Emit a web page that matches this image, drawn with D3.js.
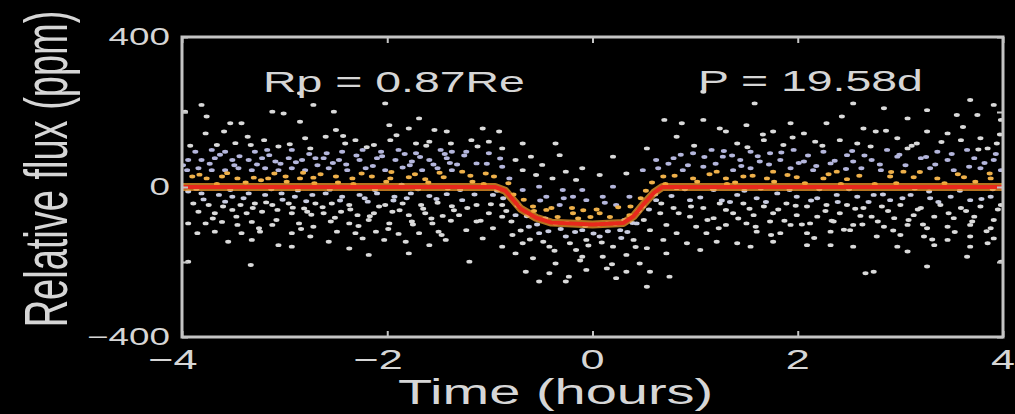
<!DOCTYPE html>
<html>
<head>
<meta charset="utf-8">
<script src="https://cdn.jsdelivr.net/npm/d3@7"></script>
<style>
  html, body { margin: 0; padding: 0; background: #000; }
  svg { display: block; }
</style>
</head>
<body>
<svg id="chart" width="1015" height="414"></svg>
<script>
// ---- data ----
const xTicks = [-4, -2, 0, 2, 4];
const xTickLabels = ["\u22124", "\u22122", "0", "2", "4"];
const yTicks = [-400, -200, 0, 200, 400];
const yTickLabels = ["\u2212400", "", "0", "", "400"];

// transit model (hours, ppm)
const modelTime = [-4, -0.95, -0.85, -0.7, -0.55, -0.4, 0, 0.3, 0.4, 0.5, 0.6, 0.68, 4];
const modelFlux = [0, 0, -10, -58, -82, -95, -100, -96, -78, -45, -15, 0, 0];

// observations, [time (h), flux (ppm)], left to right
const obsA = [[-3.97,201],[-3.81,219],[-3.76,188],[-3.12,201],[-3.01,196],[-2.85,250],[-2.72,219],[-2.85,174],[-3.53,170],[-3.42,170],[-3.59,148],[-3.77,143],[-3.20,125],[-2.80,130],[-3.48,117],[-3.66,112],[-3.33,112],[-3.06,108],[-3.87,94],[-3.71,99],[-3.58,94],[-3.29,94],[-3.17,99],[-2.93,99],[-2.75,103],
  [-3.94,72],[-3.81,72],[-3.68,77],[-3.51,72],[-3.35,72],[-3.22,77],[-3.09,68],[-2.96,77],[-2.83,72],[-2.70,77],
  [-3.95,45],[-3.84,50],[-3.71,45],[-3.58,45],[-3.45,50],[-3.32,45],[-3.19,50],[-3.06,45],[-2.93,50],[-2.80,45],
  [-3.90,28],[-3.76,23],[-3.61,28],[-3.46,23],[-3.30,25],[-3.16,23],[-2.99,28],[-2.85,23],[-2.72,25],
  [-3.94,-12],[-3.81,-17],[-3.64,-21],[-3.51,-26],[-3.35,-17],[-3.19,-21],[-3.03,-17],[-2.90,-26],[-2.73,-21],
  [-3.89,-44],[-3.74,-48],[-3.58,-39],[-3.43,-48],[-3.29,-44],[-3.12,-48],[-2.96,-44],[-2.81,-57],[-2.70,-44],
  [-3.84,-66],[-3.68,-70],[-3.51,-61],[-3.37,-70],[-3.22,-66],[-3.07,-61],[-2.93,-70],[-2.78,-66],
  [-3.94,-97],[-3.77,-97],[-3.61,-93],[-3.46,-101],[-3.32,-93],[-3.12,-101],[-2.86,-97],[-2.72,-106],
  [-3.85,-123],[-3.68,-119],[-3.42,-123],[-3.24,-119],[-2.93,-123],[-2.75,-132],
  [-3.55,-146],[-3.32,-141],[-3.06,-155],[-2.93,-159],[-3.94,-199],[-3.33,-208],
  [-3.99,58],[-3.92,110],[-3.86,-5],[-3.83,33],[-3.79,-33],[-3.73,62],[-3.70,-84],[-3.66,8],[-3.63,86],[-3.60,-52],[-3.56,37],[-3.53,-8],[-3.49,58],[-3.47,-79],[-3.44,82],[-3.40,-30],[-3.38,12],[-3.36,134],[-3.31,-56],[-3.27,60],[-3.25,-110],[-3.23,18],[-3.18,-41],[-3.15,85],[-3.13,-6],[-3.10,36],[-3.08,-88],[-3.04,62],[-3.02,-34],[-2.98,14],[-2.95,114],[-2.92,-55],[-2.89,66],[-2.87,-9],[-2.84,-112],[-2.82,38],[-2.79,-38],[-2.76,88],[-2.74,-74],[-2.71,10],[-2.68,58]];
const obsB = [[-2.02,223],[-2.52,201],[-1.69,183],[-1.98,165],[-1.79,156],[-1.54,152],[-1.42,148],[-2.50,152],[-2.60,134],[-2.31,125],[-2.41,116],[-1.97,125],[-2.13,112],[-1.72,116],[-1.59,121],[-1.38,116],
  [-2.44,94],[-2.24,99],[-2.06,94],[-1.89,99],[-1.72,90],[-1.48,99],[-1.37,94],
  [-2.62,77],[-2.47,72],[-2.27,72],[-2.10,77],[-1.92,72],[-1.76,68],[-1.59,72],[-1.42,77],
  [-2.57,50],[-2.39,45],[-2.21,50],[-2.02,45],[-1.85,52],[-1.66,45],[-1.51,50],[-1.37,45],
  [-2.50,28],[-2.34,23],[-2.15,28],[-1.97,23],[-1.79,26],[-1.63,21],[-1.45,26],
  [-2.60,-17],[-2.44,-26],[-2.27,-21],[-2.10,-17],[-1.93,-26],[-1.77,-17],[-1.59,-24],[-1.42,-19],
  [-2.54,-44],[-2.37,-48],[-2.19,-39],[-2.02,-48],[-1.85,-44],[-1.67,-48],[-1.51,-42],[-1.37,-51],
  [-2.62,-70],[-2.45,-66],[-2.29,-75],[-2.13,-70],[-1.95,-66],[-1.79,-75],[-1.63,-70],[-1.46,-77],
  [-2.55,-92],[-2.37,-97],[-2.18,-88],[-1.98,-97],[-1.76,-92],[-1.56,-97],[-1.38,-90],
  [-2.49,-119],[-2.31,-123],[-2.11,-119],[-1.89,-125],[-1.69,-123],[-1.50,-119],
  [-2.57,-146],[-2.24,-137],[-2.03,-141],[-1.82,-146],[-1.59,-155],[-1.43,-141],
  [-2.37,-164],[-2.18,-181],[-1.79,-177],
  [-2.65,34],[-2.63,-54],[-2.59,90],[-2.56,-7],[-2.53,64],[-2.51,-82],[-2.48,12],[-2.46,-36],[-2.43,136],[-2.40,60],[-2.36,-60],[-2.33,8],[-2.30,84],[-2.28,-104],[-2.25,36],[-2.22,-30],[-2.20,106],[-2.17,-78],[-2.14,56],[-2.12,-8],[-2.08,-52],[-2.05,82],[-2.01,14],[-1.99,-112],[-1.96,40],[-1.94,-36],[-1.91,138],[-1.88,-62],[-1.86,6],[-1.83,88],[-1.81,-30],[-1.78,58],[-1.75,-100],[-1.73,34],[-1.70,-6],[-1.68,80],[-1.65,-58],[-1.62,110],[-1.60,12],[-1.57,-84],[-1.55,60],[-1.52,-32],[-1.49,38],[-1.47,-128],[-1.44,88],[-1.41,-4],[-1.39,64],[-1.35,-62]];
const obsC = [[-1.07,156],[-0.91,148],[-1.18,125],[-1.01,121],[-0.68,116],[-0.36,116],[-0.88,103],[-1.23,94],[-0.60,81],[-0.32,85],[-1.01,90],[-0.75,72],[-1.13,63],[-0.10,50],[-0.88,54],[-0.49,59],[-0.26,41],[-1.27,41],[-0.68,45],[-0.39,23],[-0.16,19],[-1.04,36],[-0.55,32],[-0.81,23],[-1.17,14],
  [-0.10,-8],[-0.52,1],[-0.29,-8],[-0.68,-8],[-0.97,-21],[-1.27,-35],[-0.45,-26],[-0.19,-26],[-0.06,-35],[-1.13,-48],[-0.88,-48],[-0.58,-52],[-0.32,-48],
  [-1.30,-75],[-1.01,-70],[-0.75,-75],[-0.45,-61],[-0.19,-70],[-1.13,-92],[-0.88,-79],[-0.62,-106],[-0.36,-97],[-0.10,-115],
  [-1.23,-115],[-0.97,-110],[-0.78,-128],[-0.52,-123],[-0.26,-132],[-0.06,-141],[-1.07,-137],[-0.68,-150],[-0.42,-159],[-0.16,-168],[-0.88,-159],
  [-1.20,-199],[-0.58,-190],[-0.36,-204],[-0.75,-177],[-0.10,-186],[-0.65,-226],[-0.42,-230],[-0.23,-239],[-0.06,-221],[-0.52,-252],[-0.26,-252],
  [-1.32,60],[-1.29,-8],[-1.25,84],[-1.22,-56],[-1.19,30],[-1.15,-20],[-1.12,108],[-1.09,-90],[-1.06,8],[-1.03,62],[-0.99,-46],[-0.96,28],[-0.93,-10],[-0.90,76],[-0.87,-30],[-0.84,-64],[-0.82,10],[-0.79,-92],[-0.77,-20],[-0.73,-50],[-0.70,-116],[-0.67,-34],[-0.64,-78],[-0.61,-140],[-0.57,-64],[-0.54,-100],[-0.51,-36],[-0.48,-146],[-0.46,-84],[-0.43,-118],[-0.40,-56],[-0.37,-170],[-0.34,-80],[-0.31,-112],[-0.28,-30],[-0.25,-96],[-0.22,-150],[-0.20,-56],[-0.17,-120],[-0.14,-84],[-0.12,-196],[-0.09,-62],[-0.07,-104],[-0.04,-156],[-0.02,-80]];
const obsD = [[1.08,254],[0.70,179],[0.87,170],[1.08,179],[1.24,156],[1.30,148],[0.82,134],[0.53,103],[0.20,81],[0.98,90],[1.16,99],[0.62,72],[0.79,77],[1.27,81],[0.49,45],[0.88,45],[1.08,54],[1.21,41],[0.33,36],[0.07,32],[0.69,28],[0.98,23],[1.30,23],
  [0.20,1],[1.18,-8],[0.82,-3],[0.10,-26],[0.36,-26],[0.62,-35],[0.95,-35],[1.24,-44],[0.23,-48],[0.49,-52],[0.79,-56],[1.08,-56],[1.30,-61],
  [0.07,-70],[0.36,-75],[0.66,-70],[0.95,-79],[1.18,-83],[0.14,-97],[0.43,-97],[0.72,-101],[1.01,-106],[1.30,-101],
  [0.27,-115],[0.56,-115],[0.82,-123],[1.11,-123],[0.07,-132],[0.40,-141],[0.69,-141],[0.92,-150],[1.21,-146],
  [0.20,-159],[0.53,-163],[0.33,-181],[0.10,-186],[0.72,-177],[1.05,-168],[0.46,-204],[0.14,-217],[0.33,-226],[0.56,-226],[0.23,-243],[0.53,-266],[0.75,-239],
  [0.01,-124],[0.04,-60],[0.06,-100],[0.09,-148],[0.12,-42],[0.15,-118],[0.17,-80],[0.19,-206],[0.22,-98],[0.25,-54],[0.28,-136],[0.31,-88],[0.34,-120],[0.37,-52],[0.39,-96],[0.42,-160],[0.45,-64],[0.47,-30],[0.50,-88],[0.52,-10],[0.55,-60],[0.58,12],[0.61,-20],[0.64,50],[0.67,-44],[0.71,8],[0.74,62],[0.77,-24],[0.80,30],[0.84,-70],[0.86,86],[0.90,-6],[0.93,58],[0.96,-52],[0.99,110],[1.02,14],[1.05,-28],[1.09,80],[1.12,-88],[1.14,34],[1.17,-4],[1.20,62],[1.23,-110],[1.26,-36],[1.28,96],[1.31,8]];
const obsE = [[1.58,223],[2.54,223],[2.43,188],[1.50,165],[1.93,170],[2.28,170],[2.64,156],[1.76,148],[2.06,143],[1.41,116],[1.67,125],[1.86,112],[2.17,121],[2.41,125],[2.58,116],
  [1.54,94],[1.73,90],[1.96,99],[2.25,94],[2.48,85],[1.44,72],[1.63,68],[1.83,72],[2.06,68],[2.32,63],[2.54,68],
  [1.37,45],[1.54,50],[1.76,41],[1.93,50],[2.15,45],[2.38,41],[2.62,50],[1.47,28],[1.70,23],[1.99,26],[2.25,23],[2.48,21],
  [1.41,-21],[1.60,-30],[1.80,-17],[1.99,-26],[2.19,-30],[2.38,-21],[2.58,-26],[1.47,-44],[1.67,-52],[1.89,-44],[2.09,-52],[2.28,-48],[2.48,-48],[2.64,-56],
  [1.37,-70],[1.57,-75],[1.76,-70],[1.99,-75],[2.19,-79],[2.41,-70],[2.61,-77],[1.50,-97],[1.73,-92],[1.93,-101],[2.12,-97],[2.35,-92],[2.54,-101],
  [1.60,-119],[1.83,-123],[2.09,-123],[2.32,-119],[2.51,-115],[1.41,-150],[1.54,-159],[2.09,-155],[2.32,-155],[2.54,-159],[1.76,-146],[2.66,-230],
  [1.34,-40],[1.36,84],[1.39,12],[1.42,-84],[1.45,56],[1.48,-10],[1.51,106],[1.53,-58],[1.56,30],[1.59,-106],[1.61,82],[1.64,-4],[1.66,140],[1.69,-40],[1.72,60],[1.74,-128],[1.77,14],[1.81,-60],[1.84,92],[1.87,-90],[1.90,32],[1.92,-8],[1.95,132],[1.98,-50],[2.01,64],[2.04,-100],[2.07,10],[2.10,84],[2.13,-36],[2.16,-136],[2.18,56],[2.21,-6],[2.24,110],[2.27,-64],[2.30,34],[2.33,-90],[2.36,70],[2.39,-40],[2.42,8],[2.45,-114],[2.47,48],[2.50,-6],[2.53,96],[2.56,-58],[2.60,30],[2.63,-100],[2.65,84]];
const obsF = [[3.68,232],[2.84,210],[3.26,205],[3.91,219],[3.55,192],[3.07,183],[3.75,192],[3.98,179],[2.76,148],[3.26,148],[3.46,143],[2.97,130],[3.59,125],[3.78,130],[3.16,116],[3.94,116],
  [2.87,99],[3.07,103],[3.36,94],[3.65,99],[3.85,103],[2.72,72],[2.97,81],[3.20,77],[3.46,72],[3.72,77],[3.91,72],
  [2.81,45],[3.03,41],[3.29,50],[3.52,45],[3.78,50],[3.98,45],[2.90,28],[3.13,26],[3.36,23],[3.62,26],[3.88,23],
  [2.74,-21],[2.90,-35],[3.10,-21],[3.29,-30],[3.49,-26],[3.68,-35],[3.88,-26],[2.82,-52],[3.00,-48],[3.20,-56],[3.39,-48],[3.59,-56],[3.78,-52],[3.98,-48],
  [2.72,-79],[2.94,-83],[3.13,-75],[3.33,-79],[3.52,-83],[3.72,-79],[3.91,-88],[2.84,-106],[3.07,-101],[3.26,-110],[3.46,-106],[3.68,-101],[3.88,-110],
  [2.77,-132],[3.00,-128],[3.23,-132],[3.46,-141],[3.68,-132],[3.91,-137],[2.97,-159],[3.07,-172],[3.33,-155],[3.68,-159],[3.85,-150],
  [2.74,-226],[3.26,-212],[3.65,-186],[3.98,-199],
  [2.69,-40],[2.71,108],[2.75,8],[2.78,-92],[2.80,60],[2.83,-20],[2.86,150],[2.88,-64],[2.91,40],[2.93,-116],[2.96,10],[2.99,86],[3.02,-30],[3.05,58],[3.08,-88],[3.11,110],[3.14,-4],[3.17,-60],[3.19,40],[3.22,-100],[3.25,80],[3.28,-12],[3.31,-140],[3.34,60],[3.37,-40],[3.40,120],[3.43,10],[3.47,-70],[3.50,88],[3.53,-120],[3.56,34],[3.58,-10],[3.61,160],[3.64,-64],[3.67,54],[3.70,-92],[3.73,14],[3.76,100],[3.79,-32],[3.82,64],[3.84,-118],[3.87,36],[3.90,-6],[3.93,88],[3.95,-60],[3.97,140]];

const planetLabel = "Rp = 0.87Re";
const periodLabel = "P = 19.58d";

// ---- drawing ----
const svg = d3.select("#chart");
const plotLeft = 182, plotRight = 1003, plotTop = 37, plotBottom = 337;
const stretch = 1.6; // the original picture is wider than tall
const fg = "#d6d6d6";
const font = "'Liberation Sans', Arial, Helvetica, sans-serif";

const x = d3.scaleLinear().domain([-4, 4]).range([plotLeft, plotRight]);
const y = d3.scaleLinear().domain([-400, 400]).range([plotBottom, plotTop]);
const model = d3.scaleLinear().domain(modelTime).range(modelFlux);

svg.append("rect").attr("width", 1015).attr("height", 414).attr("fill", "#000");

svg.append("defs").append("clipPath").attr("id", "plot")
  .append("rect").attr("x", plotLeft).attr("y", plotTop)
  .attr("width", plotRight - plotLeft).attr("height", plotBottom - plotTop);

// colour of a dot depends on how far it sits from the model
const dotColor = d3.scaleThreshold()
  .domain([-40, 8, 45, 100])
  .range(["#dadada", "#c8cce0", "#eeb04a", "#b4b6dc", "#dadada"]);

const points = [].concat(obsA, obsB, obsC, obsD, obsE, obsF);

svg.append("g").attr("clip-path", "url(#plot)")
  .selectAll("ellipse")
  .data(points)
  .join("ellipse")
  .attr("cx", d => x(d[0]))
  .attr("cy", d => y(d[1]))
  .attr("rx", 3)
  .attr("ry", 1.9)
  .attr("fill", d => dotColor(d[1] - model(d[0])));

// model line: orange glow under a red core
const line = d3.line().x((d, i) => x(modelTime[i])).y(d => y(d));
const lineG = svg.append("g").attr("clip-path", "url(#plot)");
lineG.append("path").datum(modelFlux).attr("d", line)
  .attr("fill", "none").attr("stroke", "#f29a2a").attr("stroke-width", 8).attr("opacity", 0.75)
  .attr("stroke-linejoin", "round");
lineG.append("path").datum(modelFlux).attr("d", line)
  .attr("fill", "none").attr("stroke", "#e8281c").attr("stroke-width", 4)
  .attr("stroke-linejoin", "round");

// frame and inward ticks
svg.append("rect")
  .attr("x", plotLeft).attr("y", plotTop)
  .attr("width", plotRight - plotLeft).attr("height", plotBottom - plotTop)
  .attr("fill", "none").attr("stroke", "#c4c4c4").attr("stroke-width", 3);

function styleAxis(g) {
  g.select(".domain").remove();
  g.selectAll("line").attr("stroke", "#c4c4c4").attr("stroke-width", 2);
  g.selectAll("text").remove();
}
svg.append("g").attr("transform", `translate(0,${plotBottom})`)
  .call(d3.axisBottom(x).tickValues(xTicks).tickSize(-6)).call(styleAxis);
svg.append("g").attr("transform", `translate(0,${plotTop})`)
  .call(d3.axisTop(x).tickValues(xTicks).tickSize(-6)).call(styleAxis);
svg.append("g").attr("transform", `translate(${plotLeft},0)`)
  .call(d3.axisLeft(y).tickValues(yTicks).tickSize(-6)).call(styleAxis);
svg.append("g").attr("transform", `translate(${plotRight},0)`)
  .call(d3.axisRight(y).tickValues(yTicks).tickSize(-6)).call(styleAxis);

// text, stretched horizontally like the original
function label(px, py, str, size, anchor) {
  svg.append("text")
    .attr("transform", `translate(${px},${py}) scale(${stretch},1)`)
    .attr("text-anchor", anchor)
    .attr("font-family", font)
    .attr("font-size", size)
    .attr("fill", fg)
    .text(str);
}

xTicks.forEach((t, i) => {
  const shift = xTickLabels[i].startsWith("\u2212") ? -9 : 0;
  label(x(t) + shift, 369, xTickLabels[i], 27, "middle");
});
yTicks.forEach((v, i) => {
  if (yTickLabels[i]) label(170, y(v) + 8, yTickLabels[i], 23, "end");
});

label(263, 92, planetLabel, 29, "start");
label(698, 91, periodLabel, 29, "start");
label(398, 404, "Time (hours)", 35, "start");

svg.append("text")
  .attr("transform", `translate(67,169) scale(${stretch},1) rotate(-90)`)
  .attr("text-anchor", "middle")
  .attr("font-family", font)
  .attr("font-size", 38)
  .attr("fill", fg)
  .text("Relative flux (ppm)");
</script>
</body>
</html>
